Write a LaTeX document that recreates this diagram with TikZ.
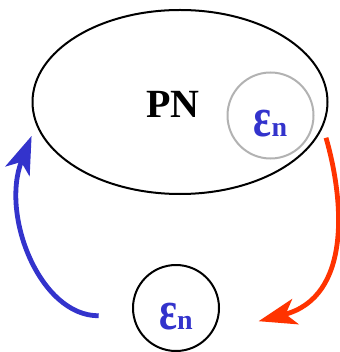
\documentclass[tikz,border=0pt]{standalone}
\usepackage{graphicx}
\usepackage{fontspec}
\setmainfont{Liberation Serif}
\usetikzlibrary{shapes.geometric,arrows.meta}
\definecolor{epsblue}{RGB}{51,51,204}
\definecolor{feedred}{RGB}{255,51,0}
\newcommand{\epsn}{{\bfseries\fontsize{40}{40}\selectfont\scalebox{1.05}[1.4]{ε}\fontsize{28}{28}\selectfont n}}

\begin{document}
\begin{tikzpicture}[x=1pt,y=-1pt,
    eps/.style={circle,draw,line width=2pt,minimum size=86pt,inner sep=0pt,
      text=epsblue,text height=42pt,text depth=0pt},
    loop arrow/.style={line width=4.8pt,-{Stealth[length=38pt,width=26pt,inset=10pt]}}]
  \useasboundingbox (0,0) rectangle (339,352);
  \node[ellipse,draw,line width=2pt,minimum width=295pt,minimum height=184pt] (pn) at (180,102) {};
  \node[font=\bfseries\fontsize{40}{40}\selectfont] (pnlabel) at (173,104) {PN};
  \node[eps,draw=black!30] (inner) at (270.5,115.5) {\epsn};
  \node[eps] (outer) at (176,308) {\epsn};

  \draw[loop arrow,epsblue,shorten <=34pt,shorten >=12pt] (outer.190) .. controls (40,316) and (0,215) .. (pn.189);
  \draw[loop arrow,feedred,shorten <=11pt,shorten >=48pt] (pn.350) .. controls (344,200) and (352,297) .. (outer.-35);
\end{tikzpicture}
\end{document}
